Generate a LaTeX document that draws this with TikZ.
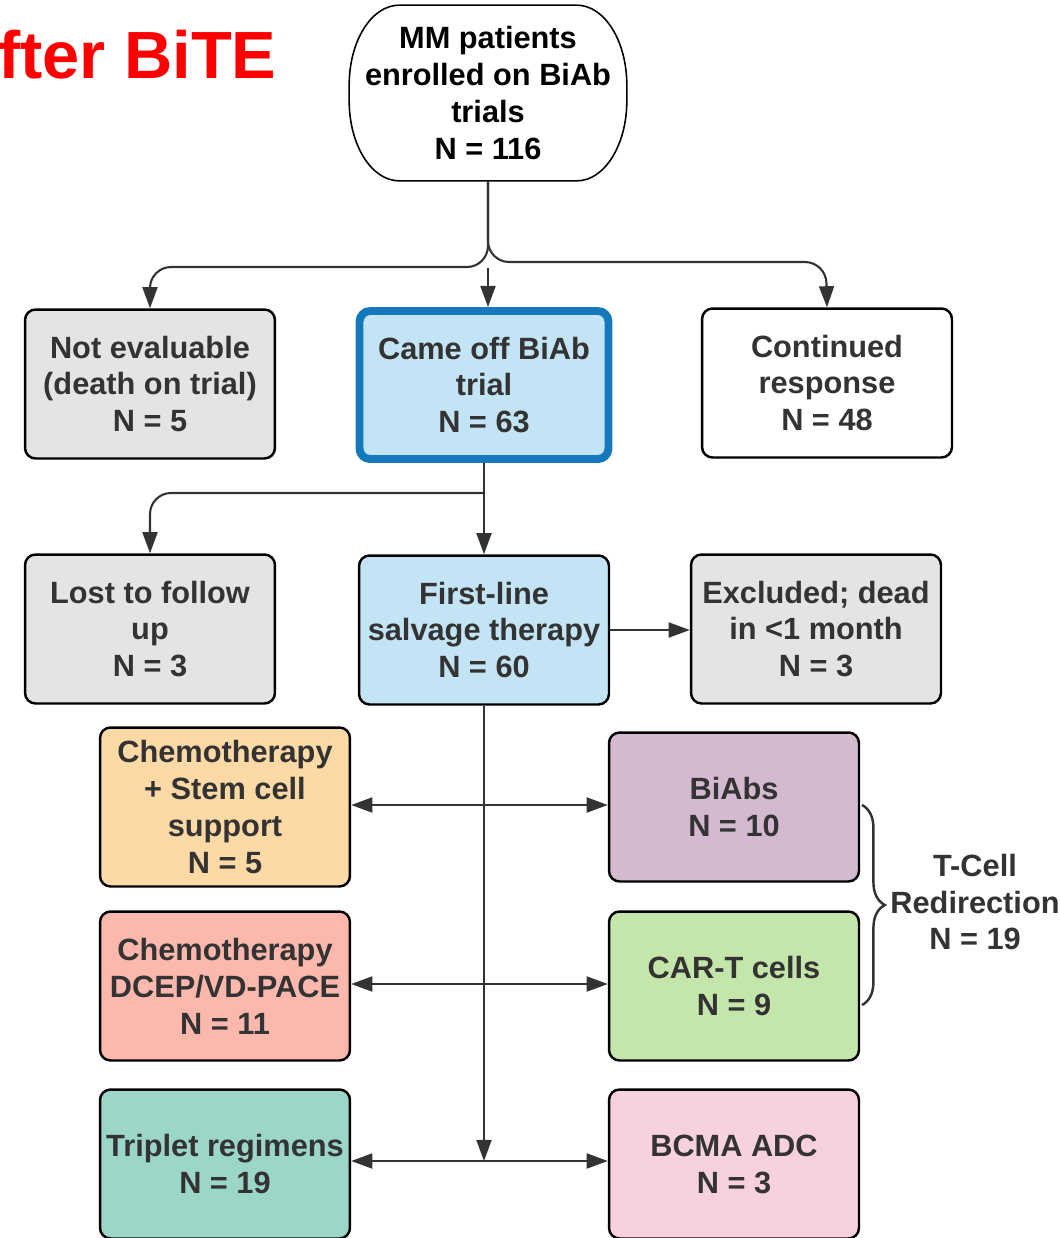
\documentclass[tikz,border=0pt]{standalone}
\usepackage{fontspec}
\setmainfont{Liberation Sans}
\usetikzlibrary{arrows.meta,decorations.pathreplacing}
\definecolor{txtgray}{HTML}{333333}
\definecolor{linegray}{HTML}{333333}
\definecolor{titlered}{HTML}{FF0000}
\definecolor{boxgray}{HTML}{E4E4E4}
\definecolor{boxblue}{HTML}{C3E4F5}
\definecolor{edgeblue}{HTML}{1479BA}
\definecolor{boxorange}{HTML}{FDD9A5}
\definecolor{boxpurple}{HTML}{D3BAD1}
\definecolor{boxsalmon}{HTML}{FDB8AD}
\definecolor{boxgreen}{HTML}{C5E6AA}
\definecolor{boxteal}{HTML}{9BD6C9}
\definecolor{boxpink}{HTML}{F8D1DE}

\begin{document}
\begin{tikzpicture}[x=0.02cm,y=-0.02cm,>={Triangle[length=12pt,width=8.5pt]},
            main node/.style={draw=black,line width=1.4pt,rounded corners=6pt,
              minimum width=5cm,minimum height=2.98cm,inner sep=0pt,align=center,
              text=txtgray,font=\fontsize{17.5}{21}\selectfont\bfseries},
            link/.style={color=linegray,line width=1.2pt}]
            \useasboundingbox (0,0) rectangle (1059,1238);
            \node[anchor=west, inner sep=0pt, text=titlered,
              font=\fontsize{38}{40}\selectfont\bfseries] (0) at (-2,55) {fter BiTE};
            \node[align=center, inner sep=0pt, minimum width=5.54cm, minimum height=3.5cm,
              font=\fontsize{17.5}{21}\selectfont\bfseries] (1) at (488,93) {MM patients\\enrolled on BiAb\\trials\\N = 116};
            \draw[line width=0.9pt] ([xshift=1cm]1.north west) -- ([xshift=-1cm]1.north east)
              arc[start angle=90,end angle=0,x radius=1cm,y radius=1.6cm]
              -- ([yshift=1.6cm]1.south east)
              arc[start angle=0,end angle=-90,x radius=1cm,y radius=1.6cm]
              -- ([xshift=1cm]1.south west)
              arc[start angle=270,end angle=180,x radius=1cm,y radius=1.6cm]
              -- ([yshift=-1.6cm]1.north west)
              arc[start angle=180,end angle=90,x radius=1cm,y radius=1.6cm] -- cycle;
            \node[main node, fill=boxgray] (2) at (150,384) {Not evaluable\\(death on trial)\\N = 5};
            \node[main node, fill=boxblue, draw=edgeblue, line width=4.5pt,
              minimum width=4.98cm, minimum height=2.96cm] (3) at (484,385) {Came off BiAb\\trial\\N = 63};
            \node[main node, fill=white] (4) at (827,383) {Continued\\response\\N = 48};
            \node[main node, fill=boxgray] (5) at (150,629) {Lost to follow\\up\\N = 3};
            \node[main node, fill=boxblue] (6) at (484,630) {First-line\\salvage therapy\\N = 60};
            \node[main node, fill=boxgray] (7) at (816,629) {Excluded; dead\\in <1 month\\N = 3};
            \node[main node, fill=boxorange, minimum height=3.18cm] (8) at (225,807) {Chemotherapy\\+ Stem cell\\support\\N = 5};
            \node[main node, fill=boxpurple] (9) at (734,807) {BiAbs\\N = 10};
            \node[main node, fill=boxsalmon] (10) at (225,986) {Chemotherapy\\DCEP/VD-PACE\\N = 11};
            \node[main node, fill=boxgreen] (11) at (734,986) {CAR-T cells\\N = 9};
            \node[main node, fill=boxteal] (12) at (225,1164) {Triplet regimens\\N = 19};
            \node[main node, fill=boxpink] (13) at (734,1164) {BCMA ADC\\N = 3};
            \node[text=txtgray, align=center, font=\fontsize{17.5}{21}\selectfont\bfseries] (14) at (975,902) {T-Cell\\Redirection\\N = 19};

            % branch points
            \coordinate (s1) at (150,267);
            \coordinate (s2) at (826,262);
            \coordinate (s3) at (488,268);
            \coordinate (s4) at (150,493);
            \coordinate (j1) at (484,805);
            \coordinate (j2) at (484,984);
            \coordinate (j3) at (484,1161);
            \coordinate (b1) at (862,805);
            \coordinate (b2) at (862,1005);

            \draw[link,->,rounded corners=12pt] (1.south) |- (s1) -- (2.north);
            \draw[link,->,rounded corners=12pt] (1.south) |- (s2) -- (4.north);
            \draw[link,->,rounded corners=12pt] (3.south |- s4) -- (s4) -- (5.north);
            \path[link,->]
            (s3) edge (s3 |- 3.north)
            (3.south) edge (6.north)
            (6.east) edge (6.east -| 7.west)
            (6.south) edge (j3)
            (j1) edge (8.east |- j1)
            (j1) edge (9.west |- j1)
            (j2) edge (10.east |- j2)
            (j2) edge (11.west |- j2)
            (j3) edge (12.east |- j3)
            (j3) edge (13.west |- j3)
            ;
            \draw[link,line width=1.4pt,decorate,decoration={brace,amplitude=13pt}] (b1) -- (b2);
        \end{tikzpicture}
\end{document}
